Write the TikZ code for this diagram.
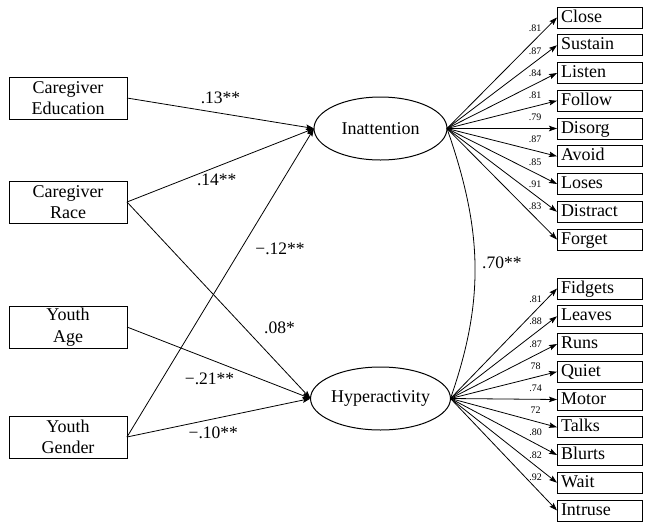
\documentclass[tikz,border=0pt]{standalone}
\usepackage{fontspec}
\setmainfont{Liberation Serif}
\usetikzlibrary{arrows.meta,calc,positioning,shapes}
\newdimen\hdim
\newdimen\wdim
\newdimen\odim
\hdim=21pt
\wdim=85pt
\odim=6.75pt
\tikzstyle{cause}=[
  draw=black,
  font={\fontsize{18}{21.5}\selectfont},
  inner sep=0pt,
  line width=1pt,
  minimum height=42pt,
  minimum width=118pt,
  outer sep=0pt,
  rectangle,
  align=center,
]
\tikzstyle{factor}=[
  draw=black,
  ellipse,
  font={\fontsize{18}{21.5}\selectfont},
  inner sep=0pt,
  line width=1pt,
  minimum height=63pt,
  minimum width=133pt,
  outer sep=0pt,
]
\tikzstyle{item}=[
  draw=black,
  font={\fontsize{18}{21.5}\selectfont},
  inner xsep=4pt,
  inner ysep=0pt,
  line width=1pt,
  minimum height=\hdim,
  outer sep=0pt,
  rectangle,
  text width=77pt,
  text height=13pt,
  text depth=4pt,
  align=left,
]
\tikzstyle{arrow}=[
  ->,
  draw=black,
  line width=.8pt,
]
\tikzstyle{arrowlabel}=[
  font={\fontsize{17.5}{20}\selectfont},
  inner sep=0pt,
]
\tikzstyle{loading}=[
  font={\fontsize{10}{12}\selectfont},
  inner sep=0pt,
  pos=.8,
  yshift=11pt,
]
\tikzset{
  x=1pt,
  y=-1pt,
  >={Stealth[length=8pt,width=5.5pt,inset=1.5pt]},
}

\begin{document}
\begin{tikzpicture}
  \useasboundingbox (0,0) rectangle (649,528);
  \node (edu) [cause] at (68,98) {Caregiver\\Education};
  \node (race) [cause, below=62pt of edu] {Caregiver\\Race};
  \node (age) [cause, below=83pt of race] {Youth\\Age};
  \node (gender) [cause, below=68pt of age] {Youth\\Gender};
  %%
  \node (inatt) [factor] at (380.5,128.5) {Inattention};
  \node (hyper) [factor] at (380.5,398.5) {Hyperactivity};
  %%
  \node (close) [item] at (599.5,17.5) {Close};
  \node (sustain) [item, below=\odim of close] {Sustain};
  \node (listen) [item, below=\odim of sustain] {Listen};
  \node (follow) [item, below=\odim of listen] {Follow};
  \node (disorg) [item, below=\odim of follow] {Disorg};
  \node (avoid) [item, below=\odim of disorg] {Avoid};
  \node (loses) [item, below=\odim of avoid] {Loses};
  \node (distract) [item, below=\odim of loses] {Distract};
  \node (forget) [item, below=\odim of distract] {Forget};
  %%
  \node (fidgets) [item] at (599.5,288.5) {Fidgets};
  \node (leaves) [item, below=\odim of fidgets] {Leaves};
  \node (runs) [item, below=\odim of leaves] {Runs};
  \node (quiet) [item, below=\odim of runs] {Quiet};
  \node (motor) [item, below=\odim of quiet] {Motor};
  \node (talks) [item, below=\odim of motor] {Talks};
  \node (blurts) [item, below=\odim of talks] {Blurts};
  \node (wait) [item, below=\odim of blurts] {Wait};
  \node (intruse) [item, below=\odim of wait] {Intruse};
  %%
  \draw [arrow] (edu.east) -- node [arrowlabel, pos=.5, yshift=15pt] {.13**} (inatt.west);
  \draw [arrow] (race.east) -- node [arrowlabel, pos=.48, yshift=-13pt] {.14**} (inatt.west);
  \draw [arrow] (race.east) -- node [arrowlabel, pos=.64, xshift=35pt] {.08*} (hyper.west);
  \draw [arrow] (gender.east) -- node [arrowlabel, pos=.61, xshift=39pt] {−.12**} (inatt.west);
  \draw [arrow] (age.east) -- node [arrowlabel, pos=.45, yshift=-20pt] {−.21**} (hyper.west);
  \draw [arrow] (gender.east) -- node [arrowlabel, pos=.47, yshift=-14pt] {−.10**} (hyper.west);
  %%
  \draw [line width=.8pt] (inatt.east)
    .. controls ($(inatt.east)+(35,100)$) and ($(hyper.east)+(35,-100)$) .. (hyper.east);
  \node (corr) [arrowlabel, anchor=west] at (482,263) {.70**};
  %%
  \draw [arrow] (inatt.east) -- node [loading] {.81} (close.west);
  \draw [arrow] (inatt.east) -- node [loading] {.87} (sustain.west);
  \draw [arrow] (inatt.east) -- node [loading] {.84} (listen.west);
  \draw [arrow] (inatt.east) -- node [loading] {.81} (follow.west);
  \draw [arrow] (inatt.east) -- node [loading] {.79} (disorg.west);
  \draw [arrow] (inatt.east) -- node [loading] {.87} (avoid.west);
  \draw [arrow] (inatt.east) -- node [loading] {.85} (loses.west);
  \draw [arrow] (inatt.east) -- node [loading] {.91} (distract.west);
  \draw [arrow] (inatt.east) -- node [loading] {.83} (forget.west);
  %%
  \draw [arrow] (hyper.east) -- node [loading] {.81} (fidgets.west);
  \draw [arrow] (hyper.east) -- node [loading] {.88} (leaves.west);
  \draw [arrow] (hyper.east) -- node [loading] {.87} (runs.west);
  \draw [arrow] (hyper.east) -- node [loading] {78} (quiet.west);
  \draw [arrow] (hyper.east) -- node [loading] {.74} (motor.west);
  \draw [arrow] (hyper.east) -- node [loading] {72} (talks.west);
  \draw [arrow] (hyper.east) -- node [loading] {.80} (blurts.west);
  \draw [arrow] (hyper.east) -- node [loading] {.82} (wait.west);
  \draw [arrow] (hyper.east) -- node [loading] {.92} (intruse.west);
\end{tikzpicture}
\end{document}
